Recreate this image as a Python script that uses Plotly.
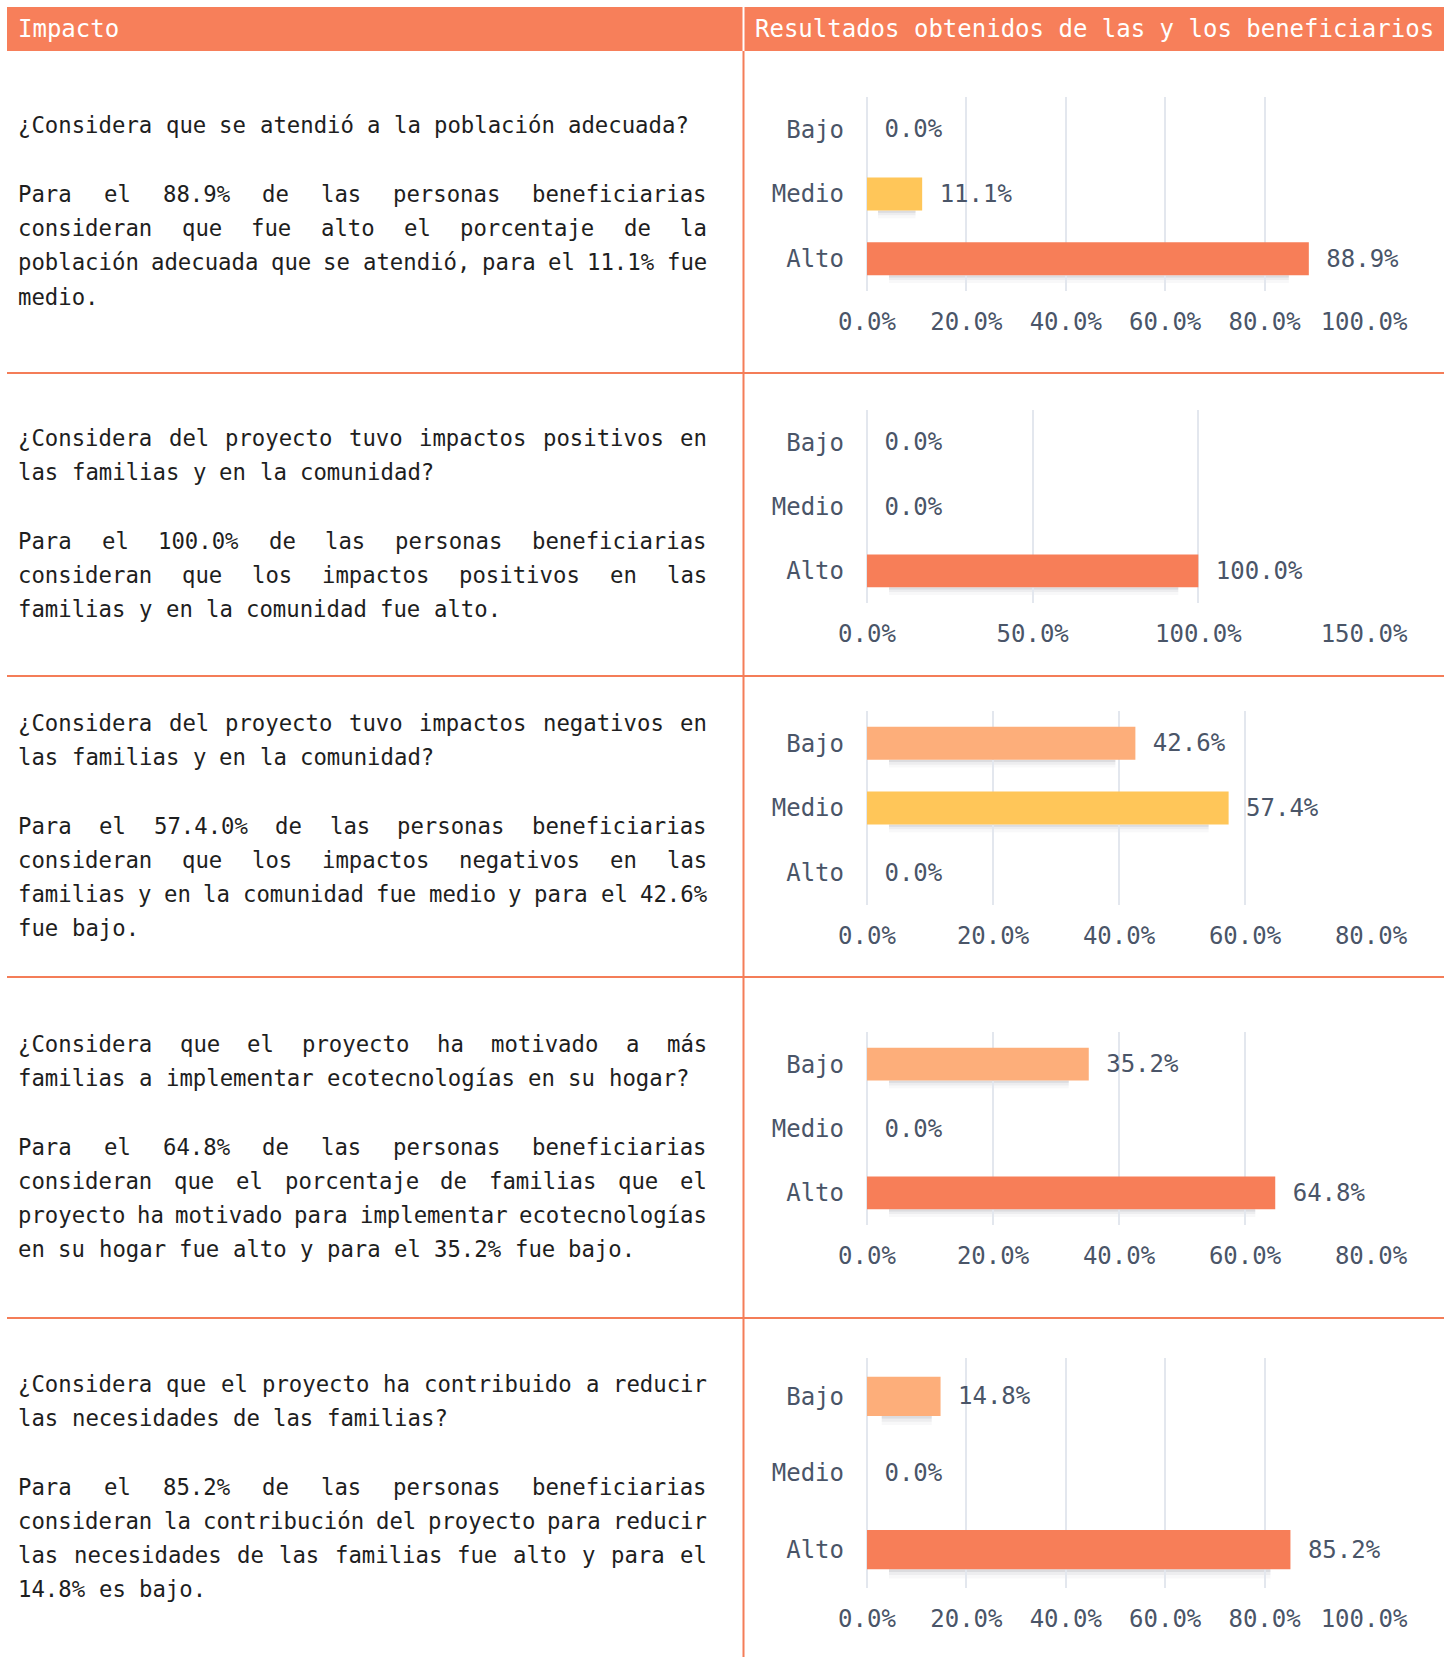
import textwrap
import plotly.graph_objects as go

# ---------------------------------------------------------------- data
encabezados = ["Impacto", "Resultados obtenidos de las y los beneficiarios"]

niveles = ["Bajo", "Medio", "Alto"]
colores_nivel = ["#FDAE7A", "#FFC659", "#F77E58"]

preguntas = [
    "¿Considera que se atendió a la población adecuada?",
    "¿Considera del proyecto tuvo impactos positivos en las familias y en la comunidad?",
    "¿Considera del proyecto tuvo impactos negativos en las familias y en la comunidad?",
    "¿Considera que el proyecto ha motivado a más familias a implementar ecotecnologías en su hogar?",
    "¿Considera que el proyecto ha contribuido a reducir las necesidades de las familias?",
]

resumenes = [
    "Para el 88.9% de las personas beneficiarias consideran que fue alto el porcentaje "
    "de la población adecuada que se atendió, para el 11.1% fue medio.",
    "Para el 100.0% de las personas beneficiarias consideran que los impactos positivos "
    "en las familias y en la comunidad fue alto.",
    "Para el 57.4.0% de las personas beneficiarias consideran que los impactos negativos "
    "en las familias y en la comunidad fue medio y para el 42.6% fue bajo.",
    "Para el 64.8% de las personas beneficiarias consideran que el porcentaje de familias "
    "que el proyecto ha motivado para implementar ecotecnologías en su hogar fue alto y "
    "para el 35.2% fue bajo.",
    "Para el 85.2% de las personas beneficiarias consideran la contribución del proyecto "
    "para reducir las necesidades de las familias fue alto y para el 14.8% es bajo.",
]

# percentages per level, in the order of `niveles` (Bajo, Medio, Alto)
resultados_poblacion = [0.0, 11.1, 88.9]
resultados_positivos = [0.0, 0.0, 100.0]
resultados_negativos = [42.6, 57.4, 0.0]
resultados_ecotecnologias = [35.2, 0.0, 64.8]
resultados_necesidades = [14.8, 0.0, 85.2]
resultados = [resultados_poblacion, resultados_positivos, resultados_negativos,
              resultados_ecotecnologias, resultados_necesidades]

eje_maximo = [100, 150, 80, 80, 100]
eje_paso = [20, 50, 20, 20, 20]

# ---------------------------------------------------------------- layout (pixels)
W, H = 1448, 1657
LEFT, RIGHT, DIVIDER = 7, 1444, 743.5
HEADER_TOP, HEADER_BOTTOM = 7, 51
ROW_EDGES = [51, 373, 676, 977, 1318, 1657]
PLOT_Y = [(97, 291), (410, 603), (711, 905), (1032, 1225), (1358, 1588)]
PLOT_X0 = 867
PLOT_X1 = [1364, 1364, 1371, 1371, 1364]

ORANGE = "#F47D58"
HEADER_FILL = "#F77F5A"
SLATE = "#4A5568"
GRID = "#E3E7EE"
INK = "#1E1E1E"
MONO = "DejaVu Sans Mono"

TEXT_SIZE = 22.3
CHAR_W = 0.60205 * TEXT_SIZE
TEXT_L, TEXT_R = 17, 706
LINE_H = 34.2
WRAP = 52
CHART_SIZE = 24
NBSP = "\u00a0"


def px(x):
    return x / W


def py(y):
    return 1 - y / H


fig = go.Figure()
shapes = []
annotations = []

# ---------------------------------------------------------------- header
shapes.append(dict(type="rect", xref="paper", yref="paper",
                   x0=px(LEFT), x1=px(DIVIDER - 1), y0=py(HEADER_BOTTOM), y1=py(HEADER_TOP),
                   fillcolor=HEADER_FILL, line=dict(width=0)))
shapes.append(dict(type="rect", xref="paper", yref="paper",
                   x0=px(DIVIDER + 1), x1=px(RIGHT), y0=py(HEADER_BOTTOM), y1=py(HEADER_TOP),
                   fillcolor=HEADER_FILL, line=dict(width=0)))
for titulo, x0 in zip(encabezados, [LEFT + 9, DIVIDER + 9]):
    annotations.append(dict(text=titulo, xref="paper", yref="paper",
                            x=px(x0), y=py((HEADER_TOP + HEADER_BOTTOM) / 2),
                            xanchor="left", yanchor="middle", showarrow=False,
                            font=dict(family=MONO, size=24, color="white")))

# ---------------------------------------------------------------- grid lines of the table
for y in ROW_EDGES[1:-1]:
    shapes.append(dict(type="line", xref="paper", yref="paper",
                       x0=px(LEFT), x1=px(RIGHT), y0=py(y), y1=py(y),
                       line=dict(color=ORANGE, width=2)))
shapes.append(dict(type="line", xref="paper", yref="paper",
                   x0=px(DIVIDER), x1=px(DIVIDER), y0=py(HEADER_BOTTOM), y1=py(H),
                   line=dict(color=ORANGE, width=2)))


# ---------------------------------------------------------------- justified text blocks
def add_line(words, y, justify):
    n_chars = sum(len(w) for w in words)
    if justify and len(words) > 1:
        gap = (TEXT_R - TEXT_L - n_chars * CHAR_W) / (len(words) - 1)
    else:
        gap = CHAR_W
    x = TEXT_L
    for w in words:
        annotations.append(dict(text=w, xref="paper", yref="paper",
                                x=px(x - 1), y=py(y), xanchor="left", yanchor="middle",
                                showarrow=False,
                                font=dict(family=MONO, size=TEXT_SIZE, color=INK)))
        x += len(w) * CHAR_W + gap


for i in range(5):
    q_lines = textwrap.wrap(preguntas[i], WRAP)
    p_lines = textwrap.wrap(resumenes[i], WRAP)
    block = [(l, k < len(q_lines) - 1) for k, l in enumerate(q_lines)]
    block.append(None)
    block += [(l, k < len(p_lines) - 1) for k, l in enumerate(p_lines)]
    center = (ROW_EDGES[i] + ROW_EDGES[i + 1]) / 2 - 1
    first = center - (len(block) - 1) * LINE_H / 2
    for k, item in enumerate(block):
        if item is None:
            continue
        line, justify = item
        add_line(line.split(" "), first + k * LINE_H, justify)

# ---------------------------------------------------------------- bar charts
BAR_W = 0.51
order = list(reversed(niveles))  # bottom to top: Alto, Medio, Bajo

for i, vals in enumerate(resultados):
    n = "" if i == 0 else str(i + 1)
    fig.add_trace(go.Bar(
        y=niveles, x=vals, orientation="h",
        marker=dict(color=colores_nivel, line=dict(width=0)),
        width=BAR_W,
        text=[NBSP + f"{v:.1f}%" for v in vals],
        textposition="outside", constraintext="none", cliponaxis=False,
        textfont=dict(family=MONO, size=CHART_SIZE, color=SLATE),
        hoverinfo="skip", showlegend=False,
        xaxis="x" + n, yaxis="y" + n,
    ))

    y_top, y_bot = PLOT_Y[i]
    fig.update_layout(**{
        "xaxis" + n: dict(
            domain=[px(PLOT_X0), px(PLOT_X1[i])], range=[0, eje_maximo[i]],
            tick0=0, dtick=eje_paso[i], tickformat=".1f", ticksuffix="%",
            showgrid=True, gridcolor=GRID, gridwidth=1.5,
            zeroline=True, zerolinecolor=GRID, zerolinewidth=1.5,
            showline=False, ticks="", ticklabelstandoff=14, automargin=False,
            tickfont=dict(family=MONO, size=CHART_SIZE, color=SLATE),
            anchor="y" + n, fixedrange=True),
        "yaxis" + n: dict(
            domain=[py(y_bot), py(y_top)], type="category",
            categoryorder="array", categoryarray=order, range=[-0.5, 2.5],
            showgrid=False, zeroline=False, showline=False, ticks="",
            ticklabelstandoff=22, automargin=False,
            tickfont=dict(family=MONO, size=CHART_SIZE, color=SLATE),
            anchor="x" + n, fixedrange=True),
    })

    # soft drop shadow under each bar
    unit = (PLOT_X1[i] - PLOT_X0) / eje_maximo[i]
    for nivel, v in zip(niveles, vals):
        if v <= 0:
            continue
        idx = order.index(nivel)
        bottom = idx - BAR_W / 2
        length_px = v * unit
        inset_l = min(22, 0.2 * length_px) / unit
        inset_r = min(20, 0.12 * length_px) / unit
        for dy, op in [(0.035, 0.10), (0.075, 0.06), (0.12, 0.035)]:
            shapes.append(dict(type="rect", xref="x" + n, yref="y" + n, layer="below",
                               x0=inset_l, x1=v - inset_r, y0=bottom - dy, y1=bottom,
                               fillcolor=f"rgba(70,70,90,{op})", line=dict(width=0)))

fig.update_layout(
    width=W, height=H,
    margin=dict(l=0, r=0, t=0, b=0, pad=0, autoexpand=False),
    paper_bgcolor="white", plot_bgcolor="white",
    bargap=0.49, shapes=shapes, annotations=annotations,
    font=dict(family=MONO),
)

fig.write_html("out.html", config={"displayModeBar": False})
